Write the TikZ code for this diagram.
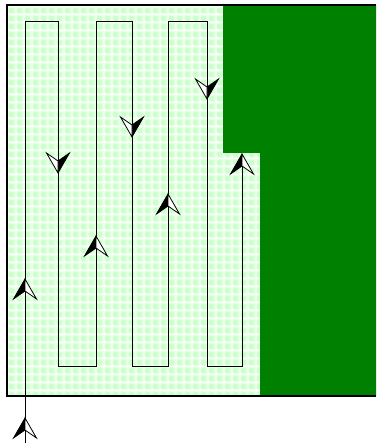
\documentclass[tikz,border=0pt]{standalone}
\usetikzlibrary{patterns.meta}
\definecolor{fieldgreen}{RGB}{0,128,0}
\definecolor{lightdot}{RGB}{205,255,205}
\definecolor{lightbase}{RGB}{232,255,232}
\pgfdeclarepattern{
  name=grassdots,
  type=colored,
  bottom left={\pgfpoint{0pt}{0pt}},
  top right={\pgfpoint{8pt}{8pt}},
  tile size={\pgfpoint{8pt}{8pt}},
  code={
    \pgfsetfillcolor{lightbase}
    \pgfpathrectangle{\pgfpoint{0pt}{0pt}}{\pgfpoint{8pt}{8pt}}
    \pgfusepath{fill}
    \pgfsetfillcolor{lightdot}
    \pgfpathcircle{\pgfpoint{4pt}{4pt}}{3.3pt}
    \pgfusepath{fill}
    \pgfsetfillcolor{white}
    \pgfpathrectangle{\pgfpoint{0pt}{0pt}}{\pgfpoint{1.5pt}{1.5pt}}
    \pgfusepath{fill}
  }
}
\tikzset{
  track/.style={draw=black, line width=1pt},
  border/.style={draw=black, line width=2pt},
  pics/halfarrow/.style={code={
    \fill[black] (0,0) -- (-11.5,20) -- (0,12) -- cycle;
    \filldraw[fill=white, draw=black, line width=0.8pt, line join=miter] (0,0) -- (0,12) -- (11.5,20) -- cycle;
    \draw[black, line width=0.8pt] (0,0) -- (-11.5,20) -- (0,12);
  }}
}
\begin{document}
\begin{tikzpicture}[x=1pt, y=-1pt]
\useasboundingbox (0,0) rectangle (376,446);
% field
\fill[pattern=grassdots] (7,5) rectangle (376,396);
\fill[fieldgreen] (223,5) -- (376,5) -- (376,396) -- (260,396) -- (260,153) -- (223,153) -- cycle;
\draw[border] (376,5) -- (7,5) -- (7,396) -- (376,396);
% track coordinates
\coordinate (s) at (25,443);
\coordinate (p1) at (25,22);
\coordinate (p2) at (58,22);
\coordinate (p3) at (58,366);
\coordinate (p4) at (96,366);
\coordinate (p5) at (96,22);
\coordinate (p6) at (132,22);
\coordinate (p7) at (132,366);
\coordinate (p8) at (168,366);
\coordinate (p9) at (168,22);
\coordinate (p10) at (207,22);
\coordinate (p11) at (207,366);
\coordinate (p12) at (242,366);
\coordinate (e) at (242,154);
\draw[track] (s) -- (p1) -- (p2) -- (p3) -- (p4) -- (p5) -- (p6) -- (p7) -- (p8) -- (p9) -- (p10) -- (p11) -- (p12) -- (e);
% arrowheads
\pic at (25,418) {halfarrow};
\pic at (25,279) {halfarrow};
\pic[rotate=180] at (58,173) {halfarrow};
\pic at (96,236) {halfarrow};
\pic[rotate=180] at (132,137) {halfarrow};
\pic at (168,194) {halfarrow};
\pic[rotate=180] at (207,99) {halfarrow};
\pic at (e) {halfarrow};
\end{tikzpicture}
\end{document}
